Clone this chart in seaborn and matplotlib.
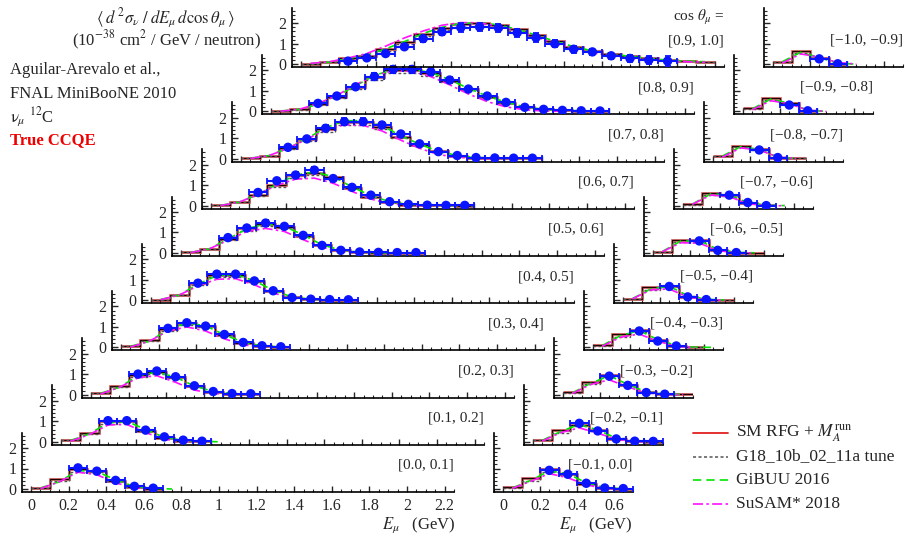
import numpy as np
import matplotlib
matplotlib.use("Agg")
import matplotlib.pyplot as plt
import seaborn as sns
from matplotlib.lines import Line2D
from matplotlib.ticker import MultipleLocator, FixedLocator, FuncFormatter, NullFormatter

# ---------------- data ----------------
t_edges = [0.0, 0.1, 0.2, 0.3, 0.4, 0.5, 0.6, 0.7, 0.8, 0.9, 1.0, 1.1,
           1.2, 1.3, 1.4, 1.5, 1.6, 1.7, 1.8, 1.9, 2.0, 2.1, 2.2]
data_first_bin = 2   # MiniBooNE data start in the 0.2-0.3 GeV bin

fwd_labels = ["[0.0, 0.1]", "[0.1, 0.2]", "[0.2, 0.3]", "[0.3, 0.4]", "[0.4, 0.5]",
              "[0.5, 0.6]", "[0.6, 0.7]", "[0.7, 0.8]", "[0.8, 0.9]", "[0.9, 1.0]"]
bwd_labels = ["[\u22120.1, 0.0]", "[\u22120.2, \u22120.1]", "[\u22120.3, \u22120.2]",
              "[\u22120.4, \u22120.3]", "[\u22120.5, \u22120.4]", "[\u22120.6, \u22120.5]",
              "[\u22120.7, \u22120.6]", "[\u22120.8, \u22120.7]", "[\u22120.9, \u22120.8]",
              "[\u22121.0, \u22120.9]"]

# forward bins (cos theta 0.0 ... 1.0)
mb_p0 = [1.03, 0.87, 0.42, 0.13, 0.04]
er_p0 = [0.10, 0.08, 0.05, 0.03, 0.02]
rfg_p0 = [0.05, 0.50, 1.00, 0.90, 0.38, 0.10, 0.02]
g18_p0 = [0.05, 0.38, 0.85, 0.85, 0.40, 0.12, 0.03]
gib_p0 = [0.05, 0.35, 0.90, 0.85, 0.45, 0.12, 0.03, 0.0]
sus_p0 = [0.02, 0.35, 0.82, 0.70, 0.30, 0.05, 0.0]

mb_p1 = [1.03, 1.03, 0.57, 0.24, 0.08, 0.03]
er_p1 = [0.10, 0.10, 0.06, 0.04, 0.02, 0.02]
rfg_p1 = [0.08, 0.44, 1.00, 1.02, 0.55, 0.20, 0.05, 0.02]
g18_p1 = [0.07, 0.38, 0.88, 0.95, 0.55, 0.22, 0.06, 0.02]
gib_p1 = [0.06, 0.38, 0.92, 1.00, 0.60, 0.22, 0.07, 0.02, 0.0]
sus_p1 = [0.03, 0.35, 0.82, 0.85, 0.45, 0.12, 0.02, 0.0]

mb_p2 = [1.00, 1.15, 0.87, 0.43, 0.15, 0.05, 0.04]
er_p2 = [0.10, 0.10, 0.08, 0.05, 0.03, 0.02, 0.02]
rfg_p2 = [0.08, 0.42, 0.97, 1.10, 0.87, 0.40, 0.13, 0.05, 0.03]
g18_p2 = [0.06, 0.35, 0.85, 1.02, 0.82, 0.38, 0.14, 0.05, 0.02]
gib_p2 = [0.06, 0.35, 0.92, 1.10, 0.85, 0.42, 0.15, 0.05, 0.02]
sus_p2 = [0.03, 0.35, 0.82, 0.92, 0.60, 0.22, 0.05, 0.01]

mb_p3 = [0.93, 1.20, 1.04, 0.63, 0.24, 0.08, 0.03]
er_p3 = [0.10, 0.10, 0.10, 0.06, 0.04, 0.02, 0.02]
rfg_p3 = [0.05, 0.35, 0.90, 1.20, 1.05, 0.60, 0.22, 0.07, 0.03]
g18_p3 = [0.05, 0.30, 0.80, 1.10, 1.00, 0.60, 0.24, 0.08, 0.03]
gib_p3 = [0.05, 0.30, 0.85, 1.20, 1.05, 0.62, 0.25, 0.08, 0.02]
sus_p3 = [0.02, 0.30, 0.80, 1.00, 0.80, 0.42, 0.12, 0.02]

mb_p4 = [0.83, 1.27, 1.27, 0.94, 0.46, 0.13, 0.05, 0.03, 0.02]
er_p4 = [0.10, 0.12, 0.12, 0.10, 0.05, 0.03, 0.02, 0.02, 0.02]
rfg_p4 = [0.03, 0.27, 0.83, 1.22, 1.22, 0.92, 0.45, 0.15, 0.05, 0.02, 0.01]
g18_p4 = [0.03, 0.23, 0.72, 1.12, 1.15, 0.90, 0.45, 0.16, 0.05, 0.02, 0.01]
gib_p4 = [0.03, 0.25, 0.78, 1.20, 1.25, 0.95, 0.48, 0.16, 0.05, 0.02, 0.01]
sus_p4 = [0.02, 0.25, 0.70, 1.02, 1.05, 0.75, 0.35, 0.10, 0.02]

mb_p5 = [0.75, 1.22, 1.46, 1.30, 0.86, 0.37, 0.13, 0.05, 0.03, 0.02, 0.02]
er_p5 = [0.08, 0.12, 0.14, 0.12, 0.08, 0.05, 0.03, 0.02, 0.02, 0.02, 0.02]
rfg_p5 = [0.03, 0.21, 0.70, 1.20, 1.42, 1.27, 0.85, 0.37, 0.13, 0.04, 0.02, 0.01, 0.01]
g18_p5 = [0.03, 0.18, 0.62, 1.08, 1.32, 1.22, 0.85, 0.38, 0.14, 0.05, 0.02, 0.01, 0.01]
gib_p5 = [0.03, 0.20, 0.68, 1.18, 1.42, 1.30, 0.88, 0.40, 0.14, 0.04, 0.02, 0.01, 0.01]
sus_p5 = [0.02, 0.20, 0.62, 1.05, 1.20, 1.05, 0.65, 0.28, 0.07, 0.01]

mb_p6 = [0.65, 1.22, 1.50, 1.74, 1.33, 0.90, 0.52, 0.20, 0.07, 0.03, 0.02, 0.02]
er_p6 = [0.07, 0.12, 0.15, 0.15, 0.12, 0.08, 0.05, 0.03, 0.02, 0.02, 0.02, 0.02]
rfg_p6 = [0.02, 0.20, 0.55, 1.02, 1.50, 1.60, 1.40, 0.87, 0.45, 0.17, 0.06, 0.03, 0.02, 0.01]
g18_p6 = [0.02, 0.17, 0.48, 0.90, 1.35, 1.50, 1.30, 0.85, 0.45, 0.18, 0.07, 0.03, 0.02, 0.01]
gib_p6 = [0.02, 0.18, 0.55, 1.05, 1.50, 1.65, 1.42, 0.92, 0.50, 0.20, 0.07, 0.03, 0.02, 0.01]
sus_p6 = [0.01, 0.18, 0.55, 1.00, 1.30, 1.35, 1.10, 0.70, 0.33, 0.10, 0.02, 0.0]

mb_p7 = [0.55, 0.96, 1.48, 1.80, 1.80, 1.64, 1.20, 0.72, 0.34, 0.15, 0.05, 0.03, 0.02, 0.02]
er_p7 = [0.06, 0.10, 0.14, 0.17, 0.17, 0.15, 0.12, 0.08, 0.05, 0.03, 0.02, 0.02, 0.02, 0.02]
rfg_p7 = [0.02, 0.15, 0.50, 0.95, 1.45, 1.80, 1.80, 1.55, 1.05, 0.68, 0.35, 0.14, 0.05, 0.03, 0.02, 0.01]
g18_p7 = [0.02, 0.13, 0.45, 0.85, 1.30, 1.62, 1.65, 1.45, 1.02, 0.66, 0.35, 0.15, 0.06, 0.03, 0.02, 0.01]
gib_p7 = [0.02, 0.15, 0.50, 0.98, 1.50, 1.85, 1.85, 1.60, 1.12, 0.70, 0.36, 0.15, 0.05, 0.03, 0.02, 0.01]
sus_p7 = [0.01, 0.15, 0.50, 0.95, 1.40, 1.65, 1.62, 1.35, 0.90, 0.50, 0.20, 0.06, 0.01, 0.0]

mb_p8 = [0.39, 0.75, 1.20, 1.70, 2.05, 2.05, 1.93, 1.53, 1.09, 0.75, 0.44, 0.20, 0.10, 0.05, 0.03, 0.02]
er_p8 = [0.05, 0.08, 0.12, 0.16, 0.18, 0.18, 0.17, 0.15, 0.12, 0.10, 0.06, 0.04, 0.03, 0.02, 0.02, 0.02]
rfg_p8 = [0.02, 0.10, 0.35, 0.72, 1.20, 1.70, 2.00, 2.00, 1.85, 1.50, 1.08, 0.72, 0.42, 0.20, 0.10, 0.05, 0.03, 0.02]
g18_p8 = [0.02, 0.09, 0.32, 0.66, 1.10, 1.55, 1.85, 1.88, 1.75, 1.45, 1.05, 0.72, 0.42, 0.22, 0.10, 0.05, 0.03, 0.02]
gib_p8 = [0.02, 0.10, 0.35, 0.75, 1.25, 1.75, 2.05, 2.05, 1.90, 1.55, 1.12, 0.75, 0.45, 0.22, 0.10, 0.05, 0.03, 0.02]
sus_p8 = [0.01, 0.10, 0.38, 0.78, 1.30, 1.75, 1.98, 1.95, 1.70, 1.30, 0.85, 0.48, 0.22, 0.08, 0.02, 0.0]

mb_p9 = [0.15, 0.31, 0.52, 0.85, 1.25, 1.58, 1.79, 1.82, 1.77, 1.54, 1.30, 1.00, 0.73, 0.60, 0.41, 0.28, 0.20, 0.15]
er_p9 = [0.04, 0.06, 0.08, 0.12, 0.15, 0.17, 0.20, 0.20, 0.20, 0.20, 0.20, 0.18, 0.16, 0.15, 0.15, 0.16, 0.20, 0.25]
rfg_p9 = [0.03, 0.10, 0.28, 0.42, 0.72, 1.07, 1.47, 1.76, 1.97, 2.02, 1.93, 1.70, 1.42, 1.13, 0.86, 0.66, 0.50, 0.38, 0.28, 0.21, 0.15, 0.12]
g18_p9 = [0.03, 0.09, 0.25, 0.38, 0.65, 1.00, 1.38, 1.65, 1.82, 1.85, 1.80, 1.62, 1.38, 1.10, 0.84, 0.65, 0.50, 0.38, 0.28, 0.21, 0.15, 0.12]
gib_p9 = [0.03, 0.10, 0.28, 0.45, 0.75, 1.10, 1.50, 1.80, 2.00, 2.02, 1.92, 1.70, 1.42, 1.12, 0.86, 0.65, 0.50, 0.38, 0.28, 0.20, 0.15, 0.12]
sus_p9 = [0.04, 0.12, 0.30, 0.52, 0.88, 1.28, 1.62, 1.90, 2.03, 2.02, 1.86, 1.62, 1.32, 1.02, 0.77, 0.56, 0.41, 0.30, 0.22, 0.16, 0.12, 0.10]

# backward bins (cos theta -0.1 ... -1.0)
mb_m0 = [0.91, 0.72, 0.28, 0.05, 0.02]
er_m0 = [0.09, 0.07, 0.04, 0.02, 0.02]
rfg_m0 = [0.08, 0.52, 0.96, 0.72, 0.25, 0.05, 0.01]
g18_m0 = [0.06, 0.39, 0.85, 0.70, 0.27, 0.06, 0.01]
gib_m0 = [0.05, 0.42, 0.88, 0.75, 0.30, 0.07, 0.01]
sus_m0 = [0.03, 0.38, 0.75, 0.55, 0.20, 0.03, 0.0]

mb_m1 = [0.90, 0.53, 0.14, 0.03, 0.02]
er_m1 = [0.09, 0.06, 0.03, 0.02, 0.02]
rfg_m1 = [0.10, 0.57, 0.80, 0.57, 0.15, 0.03, 0.01]
g18_m1 = [0.08, 0.45, 0.75, 0.55, 0.17, 0.04, 0.01]
gib_m1 = [0.07, 0.50, 0.85, 0.58, 0.18, 0.04, 0.01]
sus_m1 = [0.04, 0.45, 0.68, 0.42, 0.12, 0.02, 0.0]

mb_m2 = [0.90, 0.45, 0.10, 0.02]
er_m2 = [0.08, 0.05, 0.03, 0.02]
rfg_m2 = [0.11, 0.63, 0.96, 0.47, 0.11, 0.02, 0.01]
g18_m2 = [0.09, 0.50, 0.85, 0.47, 0.12, 0.02]
gib_m2 = [0.08, 0.55, 0.92, 0.50, 0.13, 0.03, 0.01]
sus_m2 = [0.05, 0.50, 0.72, 0.38, 0.08, 0.01, 0.0]

mb_m3 = [0.80, 0.31, 0.07]
er_m3 = [0.08, 0.04, 0.02]
rfg_m3 = [0.11, 0.63, 0.85, 0.36, 0.08, 0.01]
g18_m3 = [0.09, 0.52, 0.75, 0.36, 0.09, 0.01]
gib_m3 = [0.09, 0.58, 0.82, 0.38, 0.09, 0.01, 0.0]
sus_m3 = [0.06, 0.50, 0.65, 0.30, 0.05, 0.0]

mb_m4 = [0.67, 0.16, 0.03]
er_m4 = [0.07, 0.03, 0.02]
rfg_m4 = [0.07, 0.62, 0.70, 0.18, 0.03, 0.01]
g18_m4 = [0.06, 0.52, 0.62, 0.20, 0.04, 0.01]
gib_m4 = [0.07, 0.55, 0.68, 0.22, 0.04, 0.01]
sus_m4 = [0.06, 0.50, 0.55, 0.15, 0.02, 0.0]

mb_m5 = [0.59, 0.13, 0.02]
er_m5 = [0.06, 0.03, 0.02]
rfg_m5 = [0.06, 0.65, 0.62, 0.15, 0.02, 0.01]
g18_m5 = [0.06, 0.55, 0.55, 0.17, 0.03]
gib_m5 = [0.07, 0.58, 0.60, 0.18, 0.03, 0.01]
sus_m5 = [0.06, 0.50, 0.48, 0.12, 0.01, 0.0]

mb_m6 = [0.52, 0.16, 0.01]
er_m6 = [0.06, 0.03, 0.02]
rfg_m6 = [0.07, 0.63, 0.55, 0.15, 0.02]
g18_m6 = [0.06, 0.55, 0.50, 0.16, 0.03]
gib_m6 = [0.08, 0.58, 0.52, 0.16, 0.03, 0.01]
sus_m6 = [0.07, 0.52, 0.45, 0.10, 0.01, 0.0]

mb_m7 = [0.42, 0.05]
er_m7 = [0.05, 0.02]
rfg_m7 = [0.15, 0.63, 0.45, 0.05, 0.01]
g18_m7 = [0.12, 0.55, 0.42, 0.06, 0.01]
gib_m7 = [0.12, 0.58, 0.45, 0.08, 0.01]
sus_m7 = [0.07, 0.52, 0.42, 0.08, 0.01]

mb_m8 = [0.31, 0.03]
er_m8 = [0.04, 0.02]
rfg_m8 = [0.15, 0.63, 0.39, 0.03]
g18_m8 = [0.12, 0.55, 0.38, 0.04]
gib_m8 = [0.12, 0.60, 0.40, 0.06, 0.0]
sus_m8 = [0.08, 0.52, 0.38, 0.06, 0.0]

mb_m9 = [0.26, 0.02]
er_m9 = [0.04, 0.02]
rfg_m9 = [0.13, 0.62, 0.30, 0.02]
g18_m9 = [0.11, 0.55, 0.30, 0.03]
gib_m9 = [0.12, 0.58, 0.32, 0.05, 0.0]
sus_m9 = [0.06, 0.50, 0.35, 0.08, 0.01]

legend_labels = [r"SM RFG + $M_A^{\rm run}$", "G18_10b_02_11a tune", "GiBUU 2016", "SuSAM* 2018"]

fwd = [(mb_p0, er_p0, rfg_p0, g18_p0, gib_p0, sus_p0), (mb_p1, er_p1, rfg_p1, g18_p1, gib_p1, sus_p1),
       (mb_p2, er_p2, rfg_p2, g18_p2, gib_p2, sus_p2), (mb_p3, er_p3, rfg_p3, g18_p3, gib_p3, sus_p3),
       (mb_p4, er_p4, rfg_p4, g18_p4, gib_p4, sus_p4), (mb_p5, er_p5, rfg_p5, g18_p5, gib_p5, sus_p5),
       (mb_p6, er_p6, rfg_p6, g18_p6, gib_p6, sus_p6), (mb_p7, er_p7, rfg_p7, g18_p7, gib_p7, sus_p7),
       (mb_p8, er_p8, rfg_p8, g18_p8, gib_p8, sus_p8), (mb_p9, er_p9, rfg_p9, g18_p9, gib_p9, sus_p9)]
bwd = [(mb_m0, er_m0, rfg_m0, g18_m0, gib_m0, sus_m0), (mb_m1, er_m1, rfg_m1, g18_m1, gib_m1, sus_m1),
       (mb_m2, er_m2, rfg_m2, g18_m2, gib_m2, sus_m2), (mb_m3, er_m3, rfg_m3, g18_m3, gib_m3, sus_m3),
       (mb_m4, er_m4, rfg_m4, g18_m4, gib_m4, sus_m4), (mb_m5, er_m5, rfg_m5, g18_m5, gib_m5, sus_m5),
       (mb_m6, er_m6, rfg_m6, g18_m6, gib_m6, sus_m6), (mb_m7, er_m7, rfg_m7, g18_m7, gib_m7, sus_m7),
       (mb_m8, er_m8, rfg_m8, g18_m8, gib_m8, sus_m8), (mb_m9, er_m9, rfg_m9, g18_m9, gib_m9, sus_m9)]

# ---------------- style ----------------
sns.set_style("ticks")
plt.rcParams["font.family"] = ["Liberation Serif", "DejaVu Serif"]
plt.rcParams["mathtext.fontset"] = "stix"
plt.rcParams["axes.linewidth"] = 1.1

C_DATA = "#0a14ff"
C_RFG = "#e02020"
C_G18 = "#555555"
C_GIB = "#00e400"
C_SUS = "#ff10ff"
LS_G18 = (0, (2.0, 1.6))
LS_GIB = (0, (5.0, 3.0))
LS_SUS = (0, (6.0, 2.0, 1.5, 2.0))

W, H = 905, 539
fig = plt.figure(figsize=(W / 100, H / 100), dpi=100)

PX_UNIT = 20.5
YLIM = (-0.15, 2.75)
edges = np.array(t_edges)
centers = 0.5 * (edges[:-1] + edges[1:])


def make_axes(x0_px, y0_px, xlim, px_gev):
    left = x0_px + xlim[0] * px_gev
    width = (xlim[1] - xlim[0]) * px_gev
    bottom_px = y0_px - YLIM[0] * PX_UNIT
    height = (YLIM[1] - YLIM[0]) * PX_UNIT
    ax = fig.add_axes([left / W, 1 - bottom_px / H, width / W, height / H])
    ax.patch.set_alpha(0)
    ax.set_xlim(*xlim)
    ax.set_ylim(*YLIM)
    for s in ("top", "right"):
        ax.spines[s].set_visible(False)
    for s in ("left", "bottom"):
        ax.spines[s].set_linewidth(1.2)
        ax.spines[s].set_color("black")
    ax.xaxis.set_major_locator(MultipleLocator(0.2))
    ax.xaxis.set_minor_locator(MultipleLocator(0.05))
    ax.yaxis.set_major_locator(FixedLocator([0, 1, 2]))
    ax.yaxis.set_minor_locator(MultipleLocator(0.2))
    ax.tick_params(which="major", direction="in", length=4.5, width=1.0, labelsize=11.5, pad=3.5)
    ax.tick_params(which="minor", direction="in", length=2.5, width=0.8)
    ax.xaxis.set_major_formatter(NullFormatter())
    ax.yaxis.set_major_formatter(NullFormatter())
    return ax


def draw_panel(ax, series):
    mb, er, rfg, g18, gib, sus = series
    ax.stairs(rfg, edges[:len(rfg) + 1], baseline=None, color=C_RFG, lw=2.2, alpha=0.55, zorder=2)
    ax.stairs(rfg, edges[:len(rfg) + 1], baseline=None, color="#200000", lw=1.0, zorder=3)
    ax.stairs(g18, edges[:len(g18) + 1], baseline=None, color=C_G18, lw=1.0, linestyle=LS_G18, zorder=3)
    sns.lineplot(x=centers[:len(gib)], y=gib, ax=ax, color=C_GIB, lw=1.2, linestyle=LS_GIB, zorder=4)
    sns.lineplot(x=centers[:len(sus)], y=sus, ax=ax, color=C_SUS, lw=1.2, linestyle=LS_SUS, zorder=4)
    xs = centers[data_first_bin:data_first_bin + len(mb)]
    ax.errorbar(xs, mb, xerr=0.05, yerr=er, fmt="none", ecolor=C_DATA, elinewidth=1.5,
                capsize=2.5, capthick=1.3, zorder=5)
    sns.scatterplot(x=xs, y=mb, ax=ax, color=C_DATA, s=46, edgecolor="none", zorder=6)
    ax.set_xlabel("")
    ax.set_ylabel("")


def zero_fmt(v, p):
    return "0" if abs(v) < 1e-9 else f"{v:g}"


# backward panels (right column) first, forward panels afterwards
for j in range(10):
    ax = make_axes(503 + 30 * j, 489 - 47.2 * j, (-0.05, 0.70), 185.0)
    draw_panel(ax, bwd[j])
    ax.set_xlim(-0.05, 0.70)
    ax.set_ylim(*YLIM)
    ax.text(1.0, 1.17, bwd_labels[j], transform=ax.get_yaxis_transform(), ha="right",
            va="center", fontsize=11)
    if j == 0:
        ax.xaxis.set_major_formatter(FuncFormatter(zero_fmt))
        ax.tick_params(axis="x", labelsize=11.5, pad=4.5)

for i in range(10):
    ax = make_axes(31 + 30 * i, 489 - 47.2 * i, (-0.05, 2.25), 188.0)
    draw_panel(ax, fwd[i])
    ax.set_xlim(-0.05, 2.25)
    ax.set_ylim(*YLIM)
    ax.yaxis.set_major_formatter(FuncFormatter(zero_fmt))
    ax.text(1.0, 1.15, fwd_labels[i], transform=ax.get_yaxis_transform(), ha="right",
            va="center", fontsize=11)
    if i == 0:
        ax.xaxis.set_major_formatter(FuncFormatter(zero_fmt))
        ax.tick_params(axis="x", labelsize=11.5, pad=4.5)
    if i == 9:
        ax.text(1.0, 2.3, r"cos $\theta_\mu$ =", transform=ax.get_yaxis_transform(),
                ha="right", va="center", fontsize=11)


def fx(px):
    return px / W


def fy(py):
    return 1 - py / H


# header texts
fig.text(fx(165), fy(18), r"$\langle\; d^{\,2}\sigma_{\nu}\; /\; dE_{\mu}\, d\cos\theta_{\mu}\,\rangle$",
         ha="center", va="center", fontsize=12)
fig.text(fx(167), fy(40), r"(10$^{-38}$ cm$^{2}$ / GeV / neutron)", ha="center", va="center", fontsize=12)
fig.text(fx(10), fy(70), "Aguilar-Arevalo et al.,", ha="left", va="center", fontsize=12)
fig.text(fx(10), fy(94), "FNAL MiniBooNE 2010", ha="left", va="center", fontsize=12)
fig.text(fx(10), fy(117), r"$\mathrm{\nu}_\mu$ $^{12}$C", ha="left", va="center", fontsize=12)
fig.text(fx(10), fy(140), "True CCQE", ha="left", va="center", fontsize=12, color="#ee0000",
         fontweight="bold")

fig.text(fx(455), fy(525), r"$E_\mu$   (GeV)", ha="right", va="center", fontsize=12)
fig.text(fx(632), fy(525), r"$E_\mu$   (GeV)", ha="right", va="center", fontsize=12)

# legend
leg_styles = [dict(color=C_RFG, lw=1.3, ls="-"), dict(color=C_G18, lw=1.1, ls=LS_G18),
              dict(color=C_GIB, lw=1.2, ls=LS_GIB), dict(color=C_SUS, lw=1.2, ls=LS_SUS)]
for k, (lab, st) in enumerate(zip(legend_labels, leg_styles)):
    yy = 433 + 23.5 * k
    fig.add_artist(Line2D([fx(693), fx(728)], [fy(yy), fy(yy)], transform=fig.transFigure,
                          color=st["color"], lw=st["lw"], linestyle=st["ls"]))
    fig.text(fx(736), fy(yy), lab, ha="left", va="center", fontsize=12.5)

fig.savefig("out.png", dpi=100)
